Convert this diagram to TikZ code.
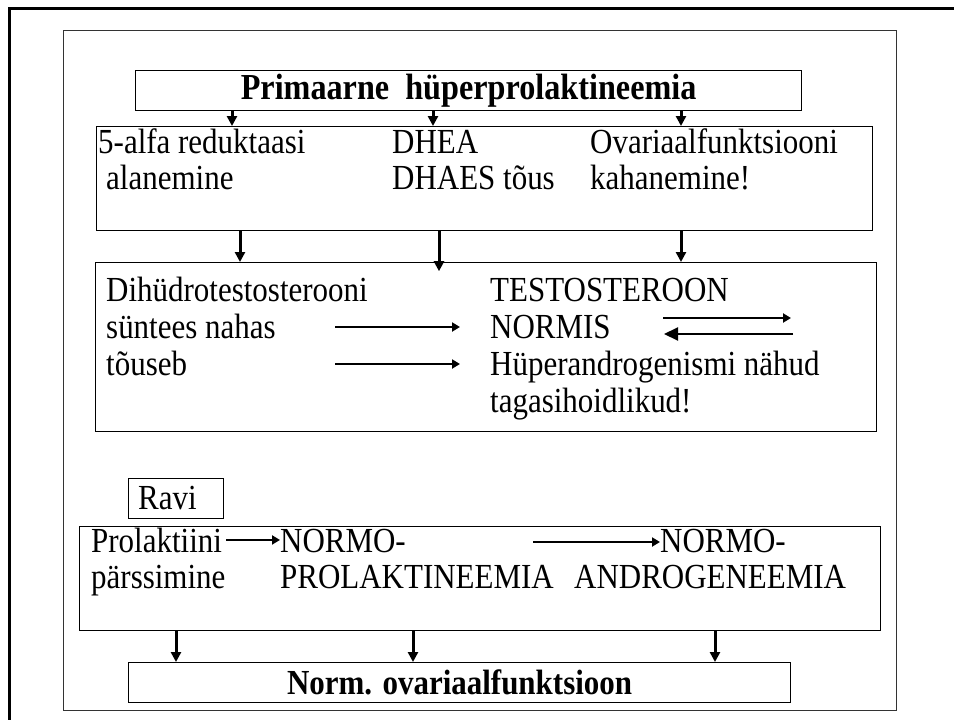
\documentclass[tikz,border=0pt]{standalone}
\usepackage{fontspec}
\setmainfont{Liberation Serif}[FakeStretch=0.88]
\usetikzlibrary{arrows.meta}

\begin{document}
\begin{tikzpicture}[x=1pt, y=-1pt, >={Triangle[width=10pt, length=10pt]},
	every node/.style={inner sep=0pt, font=\fontsize{35.2}{37}\selectfont},
	txt/.style={anchor=base west},
	box/.style={draw, line width=1.2pt, anchor=north west},
	down/.style={->, line width=3pt},
	side/.style={-{Triangle[width=9pt, length=8pt]}, line width=2pt}]
	\useasboundingbox (0,0) rectangle (954,720);
	\draw[line width=3pt] (9,720) -- (9,8) -- (954,8);
	\node[box, draw=black!80, line width=1pt, minimum width=833pt, minimum height=680pt] (frame) at (63,30) {};
	\node[box, minimum width=666pt, minimum height=40pt, font=\fontsize{36.6}{37}\selectfont\bfseries] (title) at (135,70) {Primaarne\ \ hüperprolaktineemia};
	\node[box, minimum width=776pt, minimum height=104pt] (effects) at (96,126) {};
	\node[box, minimum width=781pt, minimum height=169pt] (androgen) at (95,262) {};
	\node[box, minimum width=95pt, minimum height=40pt] (ravi) at (128,478) {};
	\node[box, minimum width=801pt, minimum height=104pt] (therapy) at (79,526) {};
	\node[box, minimum width=662pt, minimum height=40pt, font=\fontsize{35.2}{37}\selectfont\bfseries] (result) at (128,662) {Norm. ovariaalfunktsioon};

	\node[txt] (alfa) at (98,153) {5-alfa reduktaasi};
	\node[txt] (alan) at (106,189) {alanemine};
	\node[txt] (dhea) at (392,153) {DHEA};
	\node[txt] (dhaes) at (392,189) {DHAES tõus};
	\node[txt] (ovar) at (590,153) {Ovariaalfunktsiooni};
	\node[txt] (kahan) at (590,189) {kahanemine!};

	\node[txt] (dht) at (106,301) {Dihüdrotestosterooni};
	\node[txt] (synt) at (106,338) {süntees nahas};
	\node[txt] (tous) at (106,375) {tõuseb};
	\node[txt] (testo) at (490,301) {TESTOSTEROON};
	\node[txt] (normis) at (490,338) {NORMIS};
	\node[txt] (hyper) at (490,375) {Hüperandrogenismi nähud};
	\node[txt] (tagasi) at (490,412) {tagasihoidlikud!};

	\node[txt] (ravitxt) at (138,509) {Ravi};
	\node[txt] (prol) at (91,552) {Prolaktiini};
	\node[txt] (parss) at (91,588) {pärssimine};
	\node[txt] (normo) at (280,552) {NORMO-};
	\node[txt] (prolakt) at (280,588) {PROLAKTINEEMIA};
	\node[txt] (normoa) at (660,552) {NORMO-};
	\node[txt] (androg) at (574,588) {ANDROGENEEMIA};

	\coordinate (s1) at (335,327);
	\coordinate (e1) at (460,327);
	\coordinate (s2) at (335,364);
	\coordinate (e2) at (460,364);
	\coordinate (s3) at (663,318);
	\coordinate (e3) at (791,318);
	\coordinate (s4) at (793,334);
	\coordinate (e4) at (664,334);
	\coordinate (s5) at (533,542);

	\foreach \x in {232,433,681}
		\draw[down] (\x,0 |- title.south) -- (\x,0 |- effects.north);
	\foreach \x in {240,681}
		\draw[down] (\x,0 |- effects.south) -- (\x,0 |- androgen.north);
	\draw[down] (439,0 |- effects.south) -- ++(0,40);
	\foreach \x in {176,413,715}
		\draw[down] (\x,0 |- therapy.south) -- (\x,0 |- result.north);

	\draw[side] (s1) -- (e1);
	\draw[side] (s2) -- (e2);
	\draw[side] (s3) -- (e3);
	\draw[side, -{Triangle[width=13pt, length=14pt]}] (s4) -- (e4);
	\draw[side, shorten <=4pt] (prol.east) -- (prol.east -| normo.west);
	\draw[side] (s5) -- (s5 -| normoa.west);
\end{tikzpicture}
\end{document}
